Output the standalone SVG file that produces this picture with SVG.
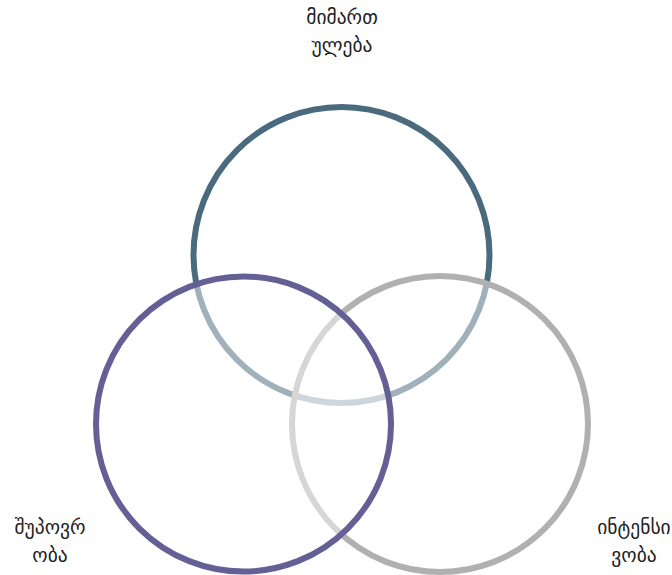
<svg xmlns="http://www.w3.org/2000/svg" width="672" height="575" viewBox="0 0 672 575">
<style>
.c{stroke-width:6;fill:#fff;fill-opacity:0.48}
.t{font-family:"DejaVu Sans","Noto Sans",sans-serif;font-size:19.5px;fill:#222;text-anchor:middle}
</style>
<rect width="672" height="575" fill="#fff"/>
<g id="n1"><circle class="c" cx="341.5" cy="255" r="148" stroke="#4a6a7e"/></g>
<g id="n3"><circle class="c" cx="440" cy="424" r="148" stroke="#b0b0b0"/></g>
<g id="n2"><circle class="c" cx="243.5" cy="424" r="147.5" stroke="#646096"/></g>
<g id="l1"><text class="t" x="342" y="24">მიმართ</text><text class="t" x="342" y="52">ულება</text></g>
<g id="l2"><text class="t" x="50" y="534">შუპოვრ</text><text class="t" x="50" y="562">ობა</text></g>
<g id="l3"><text class="t" x="634" y="534">ინტენსი</text><text class="t" x="634" y="562">ვობა</text></g>
<g id="connectors"></g>
</svg>
